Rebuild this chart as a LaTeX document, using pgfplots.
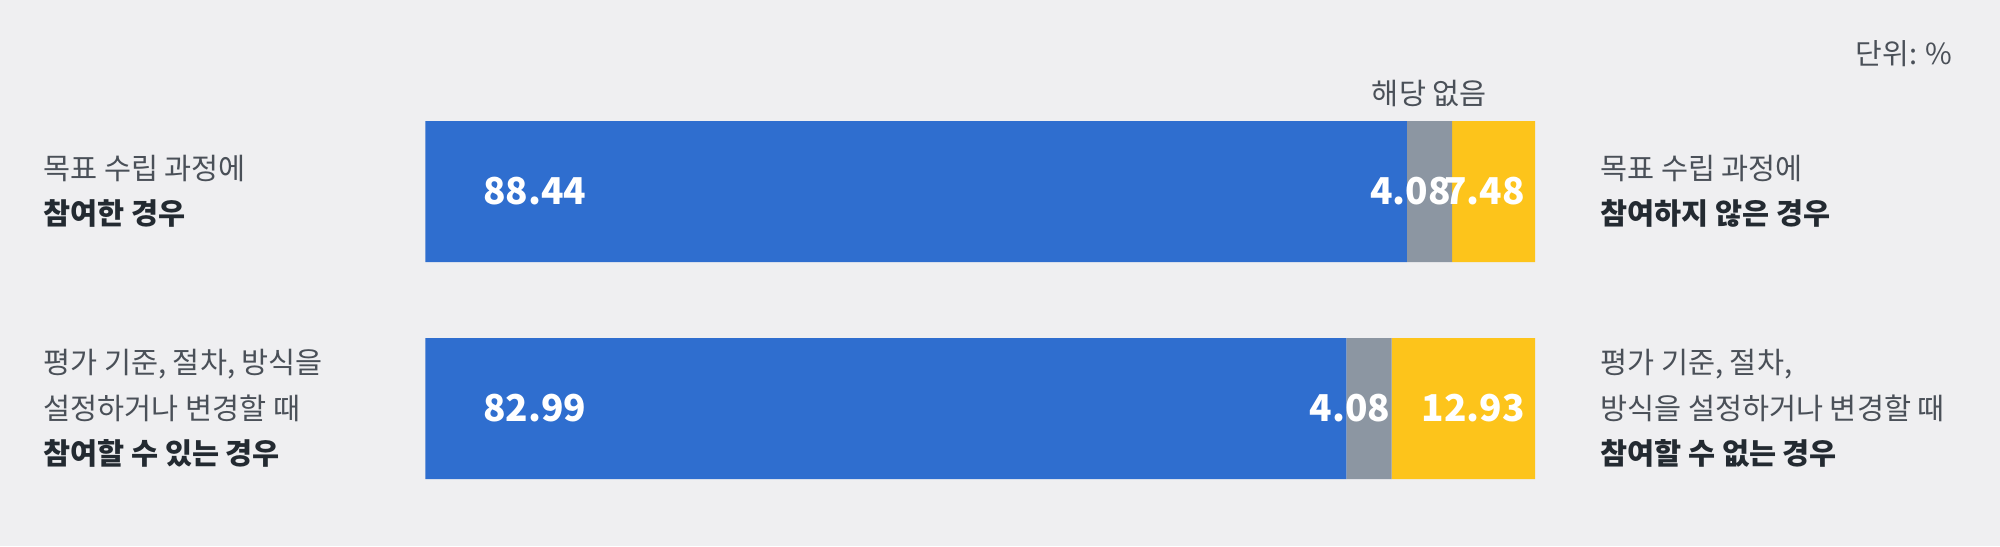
\documentclass[border=0pt]{standalone}
\usepackage{pgfplots}
\pgfplotsset{compat=1.18}
\usepackage{pgfplotstable}
\usepackage{fontspec}
\setmainfont{Noto Sans CJK KR}

\definecolor{bgcol}{HTML}{EFEFF1}
\definecolor{cblue}{HTML}{2F6ECF}
\definecolor{cgrey}{HTML}{8C96A2}
\definecolor{cyellow}{HTML}{FDC41B}
\definecolor{txt}{HTML}{4A5058}
\definecolor{txtb}{HTML}{232A31}

\tikzset{lbl/.style={anchor=west, align=left, inner sep=0pt, text=txt,
    font=\fontsize{14.7pt}{22.75pt}\selectfont}}

% y = row of the bar centre (pixels from top)
\pgfplotstableread{
y     agree  none  disagree
191.5 88.44  4.08  7.48
408.5 82.99  4.08  12.93
}\shares

\begin{document}
\begin{tikzpicture}
\fill[bgcol] (0,0) rectangle (1000pt,273pt);
\begin{axis}[
  at={(0,0)}, anchor=south west,
  scale only axis, width=1000pt, height=273pt,
  hide axis, clip=false,
  xbar stacked, bar width=70.5pt,
  xmin=-38.35, xmax=141.91,
  ymin=0, ymax=546, y dir=reverse,
  point meta=explicit,
  nodes near coords={\pgfmathprintnumber[fixed,fixed zerofill,precision=2,assume math mode=true]{\pgfplotspointmeta}},
  every node near coord/.append style={font=\fontsize{18.5pt}{22pt}\selectfont\bfseries, text=white, inner sep=0pt},
]
% labels sit at the middle of each segment: shift them from there
\addplot[fill=cblue, draw=none,
  visualization depends on={\thisrow{agree} \as \rawv},
  every node near coord/.append style={anchor=west, xshift={28.75pt-\rawv*2.77375pt}}]
  table[x=agree, y=y, meta=agree] {\shares};
\addplot[fill=cgrey, draw=none,
  visualization depends on={\thisrow{none} \as \rawv},
  every node near coord/.append style={anchor=east, xshift={\rawv*2.77375pt-0.5pt}}]
  table[x=none, y=y, meta=none] {\shares};
\addplot[fill=cyellow, draw=none,
  visualization depends on={\thisrow{disagree} \as \rawv},
  every node near coord/.append style={anchor=east, xshift={\rawv*2.77375pt-5pt}}]
  table[x=disagree, y=y, meta=disagree] {\shares};

\node[lbl] at (axis cs:-34.47,191.5)
  {목표 수립 과정에\\\textcolor{txtb}{\bfseries 참여한 경우}};
\node[lbl] at (axis cs:-34.47,408.5)
  {평가 기준, 절차, 방식을\\설정하거나 변경할 때\\\textcolor{txtb}{\bfseries 참여할 수 있는 경우}};
\node[lbl] at (axis cs:105.86,191.5)
  {목표 수립 과정에\\\textcolor{txtb}{\bfseries 참여하지 않은 경우}};
\node[lbl] at (axis cs:105.86,408.5)
  {평가 기준, 절차,\\방식을 설정하거나 변경할 때\\\textcolor{txtb}{\bfseries 참여할 수 없는 경우}};

\node[inner sep=0pt, text=txt, font=\fontsize{14.7pt}{18pt}\selectfont]
  at (axis cs:90.48,93) {해당 없음};
\node[anchor=east, inner sep=0pt, text=txt, font=\fontsize{14.5pt}{18pt}\selectfont]
  at (axis cs:137.67,54) {단위: \%};
\end{axis}
\end{tikzpicture}
\end{document}
